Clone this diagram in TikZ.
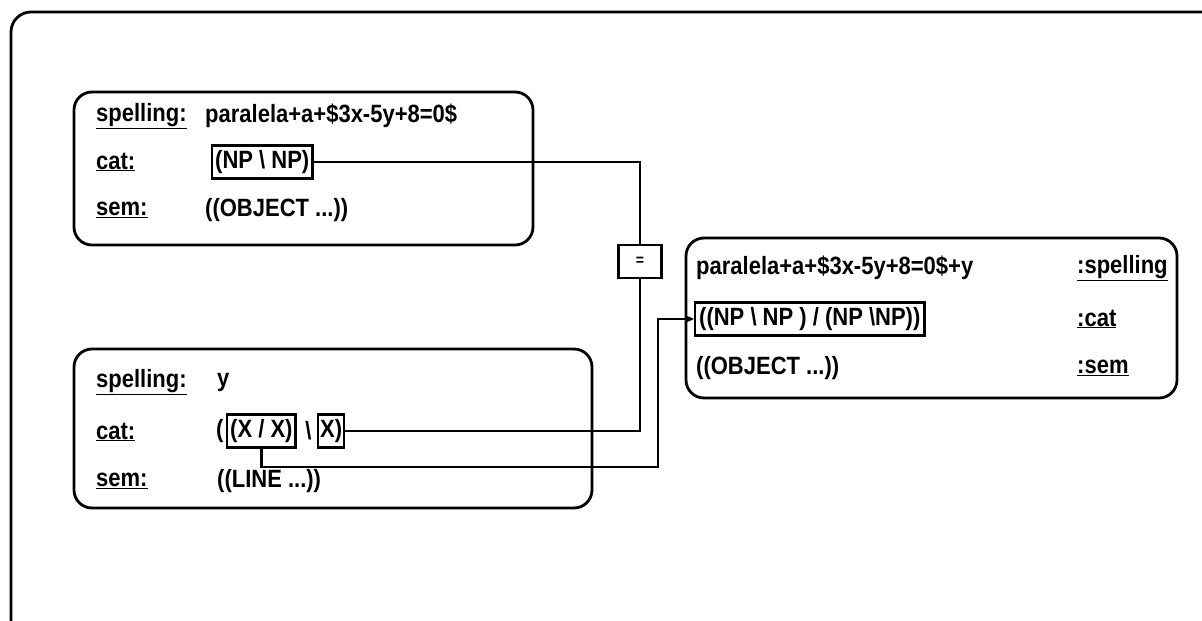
\documentclass[tikz,border=0pt]{standalone}
\usepackage{fontspec}
\setmainfont{Liberation Sans}[FakeStretch=0.88]
\usetikzlibrary{arrows.meta,positioning}

\begin{document}
\begin{tikzpicture}[x=1pt,y=-1pt, >={Stealth[length=9pt,width=8pt]},
  font=\fontsize{25}{28}\selectfont\bfseries,
  fsbox/.style={draw,rounded corners=18pt,line width=2.8pt,inner sep=0pt},
  txt/.style={anchor=west,inner sep=0pt},
  catbox/.style={draw,line width=2.4pt,anchor=west,inner xsep=3pt,inner ysep=5pt},
  conn/.style={line width=2.4pt}]
\clip (0,0) rectangle (1202,621);
% window frame
\draw[line width=2.8pt,rounded corners=20pt] (11,12) rectangle (1225,640);
% first sign: paralela a ...
\node[fsbox,minimum width=459pt,minimum height=153pt] (s1) at (303.5,168.5) {};
\node[txt] (s1sp) at (96,116) {\underline{spelling:}};
\node[txt] (s1ca) at (96,162) {\underline{cat:}};
\node[txt] (s1se) at (96,210) {\underline{sem:}};
\node[txt] (s1spv) at (205,116) {paralela+a+\$3x-5y+8=0\$};
\node[catbox] (np1) at (211,162) {(NP \textbackslash\ NP)};
\node[txt] (s1sev) at (205,210) {((OBJECT ...))};
% second sign: y
\node[fsbox,minimum width=518pt,minimum height=159pt] (s2) at (333,428.5) {};
\node[txt] (s2sp) at (96,382) {\underline{spelling:}};
\node[txt] (s2ca) at (96,432) {\underline{cat:}};
\node[txt] (s2se) at (96,481) {\underline{sem:}};
\node[txt] (s2spv) at (217,382) {y};
\node[txt] (lp) at (216,431) {(};
\node[catbox] (xx) at (226,431) {(X / X)};
\node (bs) at (308.5,431) {\textbackslash};
\node[catbox,inner xsep=2pt] (xr) at (317,431) {X)};
\node[txt] (s2sev) at (217,481) {((LINE ...))};
% result sign
\node[fsbox,minimum width=491pt,minimum height=160pt] (s3) at (931.5,318) {};
\node[txt] (s3spv) at (696,268) {paralela+a+\$3x-5y+8=0\$+y};
\node[catbox,inner xsep=4pt] (res) at (694,319) {((NP \textbackslash\ NP ) / (NP \textbackslash NP))};
\node[txt] (s3sev) at (696,368) {((OBJECT ...))};
\node[txt] (s3sp) at (1077,268) {\underline{:spelling}};
\node[txt] (s3ca) at (1077,319) {\underline{:cat}};
\node[txt] (s3se) at (1077,368) {\underline{:sem}};
% unification of the two categories
\node[draw,line width=2.4pt,minimum width=43pt,minimum height=33pt,
  font=\fontsize{16}{18}\selectfont\bfseries] (eq) at (640,261.5) {=};
\draw[conn] (np1.east) -| (eq.north);
\draw[conn] (eq.south) |- (xr.east);
\coordinate (turn) at (658,467);
\draw[conn,->] (xx.south) |- (turn) |- (res.west);
\end{tikzpicture}
\end{document}
